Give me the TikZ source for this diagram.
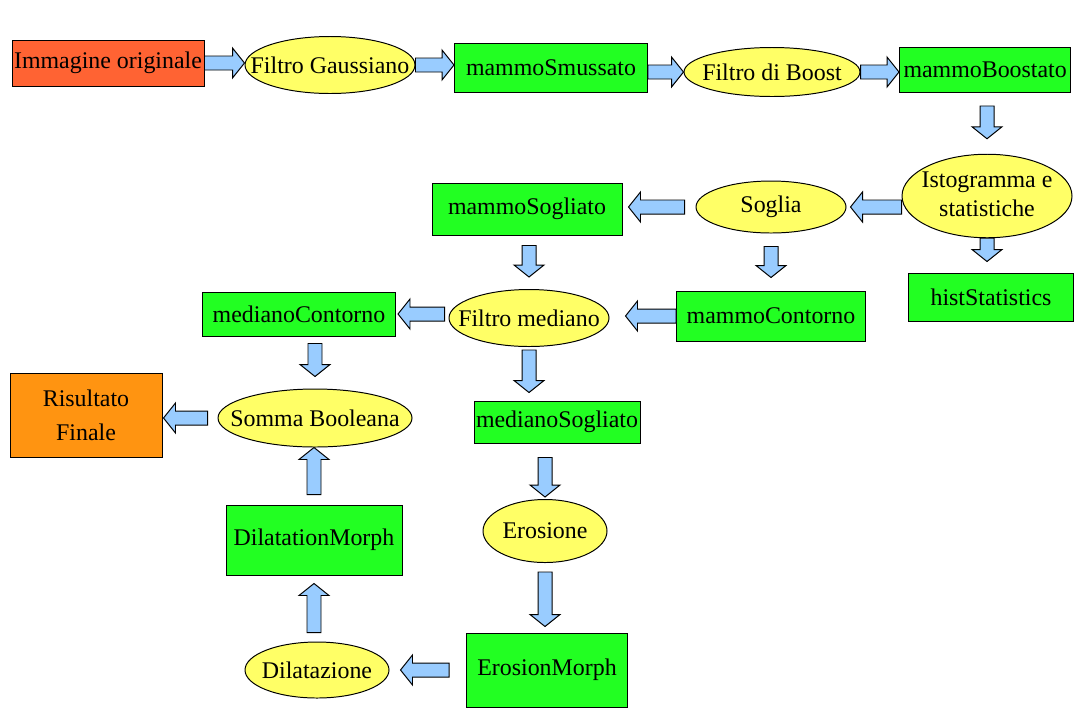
\documentclass[tikz,border=0pt]{standalone}
\usepackage{fontspec}
\setmainfont{Liberation Serif}
\usetikzlibrary{calc, shapes.geometric}

\definecolor{origred}{RGB}{255,99,51}
\definecolor{stepgreen}{RGB}{34,255,34}
\definecolor{procyellow}{RGB}{255,255,102}
\definecolor{finalorange}{RGB}{255,148,17}
\definecolor{arrowblue}{RGB}{153,204,255}

\newcommand\ellipsetext[1]{\makebox[0pt]{#1}}
% block arrow from #1 to #2, gaps #3 and #4 at the two ends
\newcommand\fat[4]{%
  \coordinate (fs) at ($(#1)!#3!(#2)$);
  \coordinate (fe) at ($(#2)!#4!(#1)$);
  \coordinate (fh) at ($(fe)!3mm!(fs)$);
  \draw[barrow] ($(fs)!1.75mm!90:(fe)$) -- ($(fh)!1.75mm!90:(fe)$) -- ($(fh)!3.75mm!90:(fe)$)
    -- (fe) -- ($(fh)!3.75mm!-90:(fe)$) -- ($(fh)!1.75mm!-90:(fe)$) -- ($(fs)!1.75mm!-90:(fe)$) -- cycle;}

\begin{document}
\begin{tikzpicture}[
    x=0.25mm, y=-0.25mm,
    every node/.style={font=\fontsize{17}{21}\selectfont, inner sep=0pt},
    datab/.style={rectangle, draw, fill=stepgreen, line width=0.7pt},
    proc/.style={ellipse, draw, fill=procyellow, line width=0.7pt},
    barrow/.style={draw, fill=arrowblue, line width=0.7pt, line join=miter},
  ]
    \useasboundingbox (0,0) rectangle (1076,719);
    \node[rectangle, draw, fill=origred, line width=0.7pt, minimum width=48mm, minimum height=11.5mm]
      (orig) at (108,63) {Immagine originale};
    \node[proc, minimum width=42.5mm, minimum height=14.25mm] (gauss) at (330,65) {\ellipsetext{Filtro Gaussiano}};
    \node[datab, minimum width=48.25mm, minimum height=12.25mm] (smuss) at (551,68) {mammoSmussato};
    \node[proc, minimum width=44mm, minimum height=12.25mm] (boost) at (772,72) {\ellipsetext{Filtro di Boost}};
    \node[datab, anchor=west, inner xsep=1mm, minimum height=11.25mm] (boostato) at (899,70) {mammoBoostato};
    \node[proc, minimum width=42.5mm, minimum height=18mm] (isto) at (987,196)
      {\ellipsetext{\begin{tabular}{@{}c@{}}Istogramma e\\statistiche\end{tabular}}};
    \node[proc, minimum width=37.5mm, minimum height=13mm] (soglia) at (771,207) {\ellipsetext{Soglia}};
    \node[datab, minimum width=47.5mm, minimum height=13mm] (sogliato) at (527,209) {mammoSogliato};
    \node[datab, minimum width=41.25mm, minimum height=12mm] (hist) at (991,297) {histStatistics};
    \node[datab, minimum width=47.25mm, minimum height=12.5mm] (contorno) at (771,316) {mammoContorno};
    \node[proc, minimum width=40mm, minimum height=14.25mm] (mediano) at (529,318) {\ellipsetext{Filtro mediano}};
    \node[datab, minimum width=48.25mm, minimum height=11mm] (medcont) at (299,314) {medianoContorno};
    \node[proc, minimum width=48.5mm, minimum height=14.5mm] (somma) at (315,418) {\ellipsetext{Somma Booleana}};
    \node[rectangle, draw, fill=finalorange, line width=0.7pt, minimum width=38mm, minimum height=21mm,
      align=center, font=\fontsize{17}{24}\selectfont] (result) at (86,415) {Risultato\\Finale};
    \node[datab, minimum width=41.5mm, minimum height=10.5mm] (medsogl) at (557,422) {medianoSogliato};
    \node[proc, minimum width=31mm, minimum height=15.75mm] (erosione) at (545,531) {\ellipsetext{Erosione}};
    \node[datab, minimum width=40.25mm, minimum height=18.5mm] (erosmorph) at (547,670) {ErosionMorph};
    \node[proc, minimum width=36mm, minimum height=14mm] (dilataz) at (317,670) {\ellipsetext{Dilatazione}};
    \node[datab, minimum width=44mm, minimum height=17.5mm] (dilmorph) at (314,540) {DilatationMorph};

    \fat{orig.east}{orig.east -| gauss.west}{0mm}{0mm}
    \fat{gauss.east}{gauss.east -| smuss.west}{0mm}{0mm}
    \fat{smuss.east |- boost.west}{boost.west}{0mm}{0mm}
    \fat{boost.east}{boost.east -| boostato.west}{0mm}{0mm}
    \fat{isto.north |- boostato.south}{isto.north}{3.25mm}{3.75mm}
    \fat{soglia.east -| isto.west}{soglia.east}{0mm}{1mm}
    \fat{soglia.west}{soglia.west -| sogliato.east}{2.75mm}{1.5mm}
    \fat{isto.south}{isto.south |- hist.north}{0mm}{2.75mm}
    \fat{soglia.south}{soglia.south |- contorno.north}{3.25mm}{3.25mm}
    \fat{mediano.north |- sogliato.south}{mediano.north}{2.5mm}{3mm}
    \fat{contorno.west}{contorno.west -| mediano.east}{0mm}{4mm}
    \fat{medcont.east -| mediano.west}{medcont.east}{1mm}{0.5mm}
    \fat{somma.north |- medcont.south}{somma.north}{1.75mm}{3mm}
    \fat{somma.west}{somma.west -| result.east}{2.5mm}{0.25mm}
    \fat{mediano.south}{mediano.south |- medsogl.north}{0.75mm}{2mm}
    \fat{erosione.north |- medsogl.south}{erosione.north}{3.5mm}{0.5mm}
    \fat{erosione.south}{erosione.south |- erosmorph.north}{2.25mm}{1.5mm}
    \fat{erosmorph.west}{erosmorph.west -| dilataz.east}{4.25mm}{2.75mm}
    \fat{dilmorph.south |- dilataz.north}{dilmorph.south}{2.25mm}{2mm}
    \fat{dilmorph.north}{dilmorph.north |- somma.south}{2.5mm}{0mm}
  \end{tikzpicture}
\end{document}
